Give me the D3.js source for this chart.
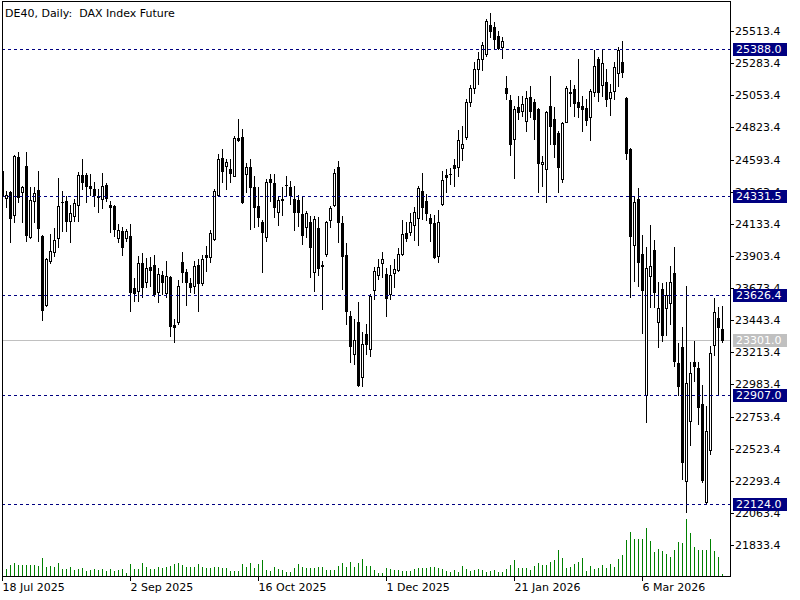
<!DOCTYPE html>
<html lang="en">
<head>
<meta charset="utf-8">
<title>DE40, Daily</title>
<script src="https://cdn.jsdelivr.net/npm/d3@7"></script>
<style>
  body { margin: 0; background: #fff; }
  svg { display: block; font-family: "DejaVu Sans", sans-serif; }
</style>
</head>
<body>
<script>
// daily bars, 18 Jul 2025 -> end of Mar 2026
const opens = [
  24513,24320,24363,24198,24613,24363,24549,24040,24298,24377,
  24047,23553,23868,23933,24033,24291,24298,24155,24191,24270,
  24485,24485,24406,24384,24334,24313,24413,24270,24262,24033,
  24083,24033,24047,23675,23653,23854,23718,23825,23839,23646,
  23768,23639,23754,23410,23431,23861,23790,23711,23689,23839,
  23711,23911,23897,24026,24341,24606,24549,24528,24477,24750,
  24757,24492,24542,24399,24262,24148,24040,24456,24427,24219,
  24309,24413,24399,24313,24305,24205,24112,24148,23789,24105,
  23839,23919,24162,24270,24542,24141,23911,23474,23202,23431,
  23037,23345,23238,23661,23768,23854,23775,23632,23782,23804,
  23918,24069,24076,24126,24176,24370,24298,24176,24141,23904,
  24277,24485,24492,24556,24542,24678,24757,25008,25108,25244,
  25316,25352,25559,25545,25480,25402,25108,25022,24742,24972,
  24943,24871,25043,25008,24957,24563,24528,24979,24886,24785,
  24456,24864,25079,25101,25008,24979,24965,24900,25079,25316,
  25129,25151,25036,25086,25215,25294,25036,24671,23983,24313,
  23918,22908,23761,23947,23431,23668,23532,23567,23782,23138,
  23252,22292,22722,23145,23102,22844,22142,22514,23267,23460,
  23381]
const highs = [
  24542,24370,24370,24628,24649,24406,24649,24399,24399,24513,
  24055,23890,24062,24105,24463,24370,24334,24270,24313,24506,
  24599,24499,24492,24434,24384,24499,24427,24298,24265,24134,
  24112,24098,24134,23747,23904,23926,23890,23897,23911,23818,
  23797,23868,23757,23453,23732,23933,23811,23747,23868,23883,
  23911,23976,24090,24384,24635,24671,24599,24599,24764,24886,
  24814,24571,24599,24477,24399,24160,24456,24492,24492,24334,
  24399,24477,24441,24406,24341,24334,24227,24191,24191,24184,
  23868,24155,24262,24528,24585,24191,23997,23510,23453,23575,
  23360,23417,23632,23825,23883,23933,23818,23839,23883,23961,
  24162,24148,24212,24255,24406,24499,24348,24205,24198,24234,
  24513,24528,24535,24599,24807,24836,25029,25129,25294,25366,
  25438,25602,25645,25581,25516,25473,25194,25058,24979,25051,
  25051,25086,25122,25029,24960,24621,24943,25194,24972,24800,
  24864,25122,25165,25129,25316,25051,25029,25101,25380,25330,
  25380,25244,25137,25294,25402,25445,25043,24678,24327,24391,
  24055,23969,24126,24019,23718,23711,23718,23832,23969,23281,
  23396,23689,23145,23295,23145,22980,22829,23259,23603,23539,
  23546]
const lows = [
  24277,24255,24004,24148,24291,24148,24012,24033,24148,24012,
  23446,23546,23854,23904,23969,24083,24083,24004,24155,24155,
  24384,24291,24341,24262,24219,24248,24298,24076,24047,24004,
  23911,24012,23510,23582,23582,23610,23682,23689,23617,23574,
  23632,23610,23331,23288,23417,23718,23553,23646,23639,23510,
  23696,23797,23861,24019,24338,24434,24384,24434,24474,24728,
  24284,24363,24098,24112,24119,23789,24012,24298,24184,24126,
  24198,24341,24277,24090,24119,23990,24040,23754,23653,23768,
  23524,23904,24112,24262,24004,23668,23417,23145,23130,22973,
  22973,23202,23188,23596,23739,23754,23474,23596,23682,23797,
  23911,24012,24055,24019,23983,24169,24162,24012,23890,23861,
  24270,24363,24420,24406,24477,24592,24742,24979,25072,25137,
  25237,25337,25473,25395,25387,25323,25029,24628,24463,24886,
  24907,24800,24900,24742,24363,24406,24291,24707,24613,24363,
  24434,24861,24979,24907,24900,24800,24843,24735,25051,25015,
  25051,24979,24914,25029,25122,25187,24599,23610,23725,23689,
  23352,22715,23539,23539,23252,23295,23338,23417,23116,22908,
  22306,22070,22550,23008,22700,22285,22134,22485,23195,22915,
  23288]
const closes = [
  24334,24341,24176,24621,24327,24399,24055,24305,24356,24105,
  23517,23883,23940,24019,24262,24287,24155,24212,24284,24485,
  24434,24406,24391,24341,24327,24406,24320,24255,24098,24090,
  23969,24083,23646,23639,23854,23682,23818,23804,23632,23775,
  23718,23761,23403,23396,23689,23790,23718,23682,23832,23711,
  23883,23897,24069,24370,24599,24513,24578,24499,24750,24735,
  24291,24542,24399,24255,24184,24076,24434,24434,24255,24305,
  24305,24409,24341,24219,24219,24055,24212,23969,24169,23818,
  23832,24148,24248,24499,24148,23904,23510,23259,23302,22980,
  23274,23274,23618,23797,23825,23883,23603,23768,23811,23918,
  24062,24033,24148,24219,24391,24255,24212,24141,23897,24148,
  24449,24470,24488,24535,24735,24707,25008,25108,25244,25316,
  25416,25588,25516,25459,25395,25445,25072,24707,24957,24936,
  24993,25036,24943,24886,24571,24578,24936,24836,24707,24542,
  24857,25108,25072,25000,24972,24957,24879,25086,25265,25079,
  25287,25029,25079,25258,25380,25222,24642,24047,24291,23861,
  23661,23818,23832,23646,23532,23338,23625,23718,23152,22973,
  22428,22994,23066,23116,22822,22299,22650,23209,23503,23396,
  23301.0]
// tick volumes (relative)
const volumes = [
  70,70,110,127,110,110,110,110,110,100,
  177,93,100,93,127,70,70,87,60,70,
  77,53,60,67,60,67,47,67,53,60,
  67,30,117,67,70,127,87,67,73,87,
  83,87,100,120,127,110,87,93,87,117,
  87,80,83,87,87,77,77,53,50,50,
  120,90,127,77,120,160,60,50,90,70,
  60,40,40,77,120,93,77,77,80,87,
  87,60,60,60,100,127,90,137,87,133,
  167,100,100,60,30,30,77,67,60,60,
  50,50,53,70,80,80,80,90,87,77,
  70,47,43,60,40,100,70,50,60,70,
  60,43,50,60,40,40,70,110,160,80,
  77,77,60,100,130,110,110,140,160,260,
  183,80,90,120,140,180,50,100,70,80,
  110,80,120,90,170,210,360,440,370,370,
  370,480,350,240,270,250,220,190,260,340,
  330,570,430,290,260,260,260,370,250,190,
  20]

const priceTicks = [25513.4,25283.4,25053.4,24823.4,24593.4,24363.4,24133.4,23903.4,
  23673.4,23443.4,23213.4,22983.4,22753.4,22523.4,22293.4,22063.4,21833.4]
const dateTickIdx = [0, 32, 64, 96, 128, 160]
const dateTicks = ["18 Jul 2025", "2 Sep 2025", "16 Oct 2025", "1 Dec 2025", "21 Jan 2026", "6 Mar 2026"]
const levels = [25388.0, 24331.5, 23626.4, 22907.0, 22124.0]
const lastPrice = 23301.0

const w = 800, h = 600
const right = 730, bottom = 576

const x = d3.scaleLinear().domain([0, 180]).range([2, 722])
const y = d3.scaleLinear().domain([21612.2, 25735.2]).range([bottom, 0])
const yVol = d3.scaleLinear().domain([0, d3.max(volumes)]).range([bottom, 519])

const bars = opens.map((o, i) => ({i, o, h: highs[i], l: lows[i], c: closes[i], v: volumes[i]}))
const px = i => Math.round(x(i))
const py = v => Math.round(y(v))

const svg = d3.select("body").append("svg")
  .attr("width", w).attr("height", h)
  .attr("shape-rendering", "crispEdges")

svg.append("rect").attr("width", w).attr("height", h).attr("fill", "#fff")

svg.append("clipPath").attr("id", "plot")
  .append("rect").attr("x", 2).attr("y", 1).attr("width", right - 2).attr("height", bottom - 1)

const plot = svg.append("g").attr("clip-path", "url(#plot)")

// volumes
plot.append("g").selectAll("line").data(bars).join("line")
  .attr("x1", d => px(d.i) + 0.5).attr("x2", d => px(d.i) + 0.5)
  .attr("y1", bottom).attr("y2", d => Math.round(yVol(d.v)))
  .attr("stroke", "#008000")

// bid line
plot.append("line")
  .attr("x1", 2).attr("x2", right)
  .attr("y1", py(lastPrice) + 0.5).attr("y2", py(lastPrice) + 0.5)
  .attr("stroke", "#c0c0c0")

// candles
const cg = plot.append("g")
cg.selectAll("line").data(bars).join("line")
  .attr("x1", d => px(d.i) + 0.5).attr("x2", d => px(d.i) + 0.5)
  .attr("y1", d => py(d.h)).attr("y2", d => py(d.l) + 1)
  .attr("stroke", "#000")

bars.forEach(d => {
  const top = py(Math.max(d.o, d.c)), bot = py(Math.min(d.o, d.c))
  const cx = px(d.i)
  if (d.c < d.o || bot - top < 1) {
    cg.append("rect").attr("x", cx - 1).attr("y", top)
      .attr("width", 3).attr("height", Math.max(1, bot - top + 1)).attr("fill", "#000")
  } else {
    cg.append("rect").attr("x", cx - 0.5).attr("y", top + 0.5)
      .attr("width", 2).attr("height", bot - top)
      .attr("fill", "#fff").attr("stroke", "#000")
  }
})

// horizontal levels
plot.append("g").selectAll("line").data(levels).join("line")
  .attr("x1", 2).attr("x2", right)
  .attr("y1", d => py(d) + 0.5).attr("y2", d => py(d) + 0.5)
  .attr("stroke", "#000080").attr("stroke-dasharray", "3,3")

// frame
svg.append("path")
  .attr("d", `M2.5,${bottom + 0.5}V1.5H${right + 0.5}V${bottom + 0.5}H2.5`)
  .attr("fill", "none").attr("stroke", "#000")

// axes
const yAxis = d3.axisRight(y).tickValues(priceTicks)
  .tickFormat(d3.format(".1f")).tickSizeInner(4).tickSizeOuter(0).tickPadding(1)
const ya = svg.append("g").attr("transform", `translate(${right},0)`).call(yAxis)
ya.select(".domain").remove()
ya.selectAll("text").attr("font-size", 11).attr("font-family", "DejaVu Sans").attr("fill", "#000")

const xAxis = d3.axisBottom(x).tickValues(dateTickIdx)
  .tickFormat((d, k) => dateTicks[k]).tickSizeInner(5).tickSizeOuter(0).tickPadding(2)
const xa = svg.append("g").attr("transform", `translate(0,${bottom})`).call(xAxis)
xa.select(".domain").remove()
xa.selectAll("text").attr("text-anchor", "start").attr("x", 0)
  .attr("font-size", 11).attr("font-family", "DejaVu Sans").attr("fill", "#000")

// price labels on the right
const tags = levels.map(v => ({v, bg: "#000080"})).concat([{v: lastPrice, bg: "#c0c0c0"}])
const tg = svg.append("g").selectAll("g").data(tags).join("g")
  .attr("transform", d => `translate(0,${py(d.v)})`)
tg.append("rect").attr("x", 733).attr("y", -6).attr("width", 54).attr("height", 13)
  .attr("fill", d => d.bg)
tg.append("text").attr("x", 736).attr("y", 0.5).attr("dy", "0.35em")
  .attr("font-size", 11).attr("fill", "#fff")
  .text(d => d3.format(".1f")(d.v))

// title
svg.append("text").attr("x", 5).attr("y", 17)
  .attr("font-size", 11).attr("fill", "#000").style("white-space", "pre")
  .text("DE40, Daily:  DAX Index Future")
</script>
</body>
</html>
